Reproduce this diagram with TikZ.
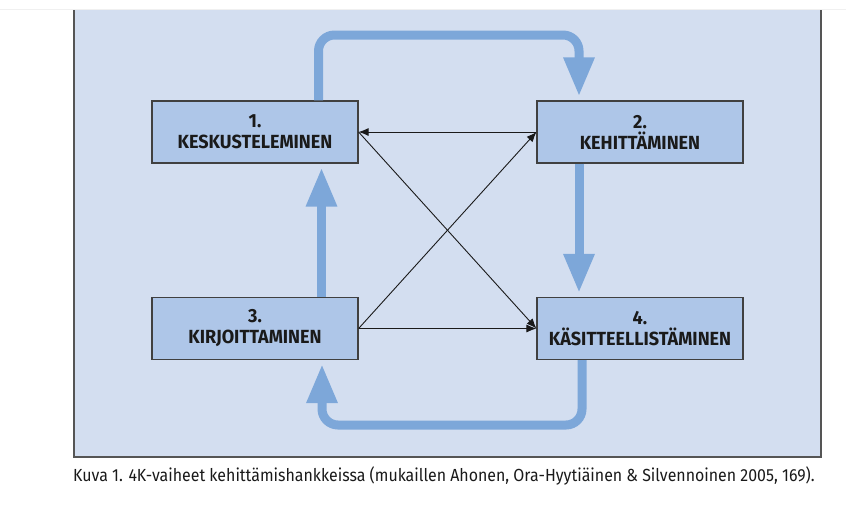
\documentclass[tikz,border=0pt]{standalone}
\usepackage{fontspec}
\setmainfont{Fira Sans}
\newfontfamily\boxfont{Fira Sans}[FakeStretch=0.95]
\newfontfamily\capfont{Fira Sans}[FakeStretch=0.91]
\usetikzlibrary{arrows.meta,calc}
\definecolor{bgfill}{HTML}{D3DEF0}
\definecolor{boxfill}{HTML}{AEC6E8}
\definecolor{thickblue}{HTML}{7DA7D9}
\definecolor{boxline}{HTML}{404040}
\definecolor{framegray}{HTML}{555555}
\definecolor{txt}{HTML}{1A1A1A}
\tikzset{
  phase/.style={draw=boxline, line width=1.2pt, fill=boxfill, minimum width=206pt, minimum height=62pt, inner sep=0pt, align=center, text=txt, font=\boxfont\bfseries\fontsize{19}{21}\selectfont},
  bigarrow/.style={draw=thickblue, line width=9pt, -{Triangle[width=29pt,length=39pt]}, shorten >=4pt},
  thinarrow/.style={draw=txt, line width=0.9pt, -{Latex[length=10pt,width=8pt]}}
}
\begin{document}
\begin{tikzpicture}[x=1pt,y=-1pt]
\useasboundingbox (0,0) rectangle (846,504);
\fill[white] (0,0) rectangle (846,504);
\draw[black!6, line width=1pt] (0,9) -- (846,9);
\fill[bgfill] (74,10) rectangle (821,457);
\draw[framegray, line width=1.8pt] (74,10) -- (74,457) -- (821,457) -- (821,10);
\node[phase] (b1) at (255,132) {1.\\KESKUSTELEMINEN};
\node[phase] (b2) at (640,132) {2.\\KEHITTÄMINEN};
\node[phase] (b3) at (255,328.5) {3.\\KIRJOITTAMINEN};
\node[phase] (b4) at (640,328.5) {4.\\KÄSITTEELLISTÄMINEN};
\coordinate (top) at (450,35);
\coordinate (bot) at (450,425);
% thick loop arrows
\draw[bigarrow, rounded corners=16pt] ([xshift=63.5pt]b1.north) |- (top) -| ([xshift=-61pt]b2.north);
\draw[bigarrow] ([xshift=-61pt]b2.south) -- ([xshift=-61pt]b4.north);
\draw[bigarrow, rounded corners=16pt] ([xshift=-58pt]b4.south) |- (bot) -| ([xshift=67pt]b3.south);
\draw[bigarrow] ([xshift=66.5pt]b3.north) -- ([xshift=66.5pt]b1.south);
% thin arrows
\draw[thinarrow] (b2.west) -- (b1.east);
\draw[thinarrow] (b1.east) -- (b4.west);
\draw[thinarrow] (b3.east) -- (b2.west);
\draw[thinarrow] (b3.east) -- (b4.west);
\node[anchor=west, inner sep=0pt, text=txt, font=\capfont\fontsize{17.5}{20}\selectfont] (cap) at (73,476) {Kuva 1. 4K-vaiheet kehittämishankkeissa (mukaillen Ahonen, Ora-Hyytiäinen \& Silvennoinen 2005, 169).};
\end{tikzpicture}
\end{document}
